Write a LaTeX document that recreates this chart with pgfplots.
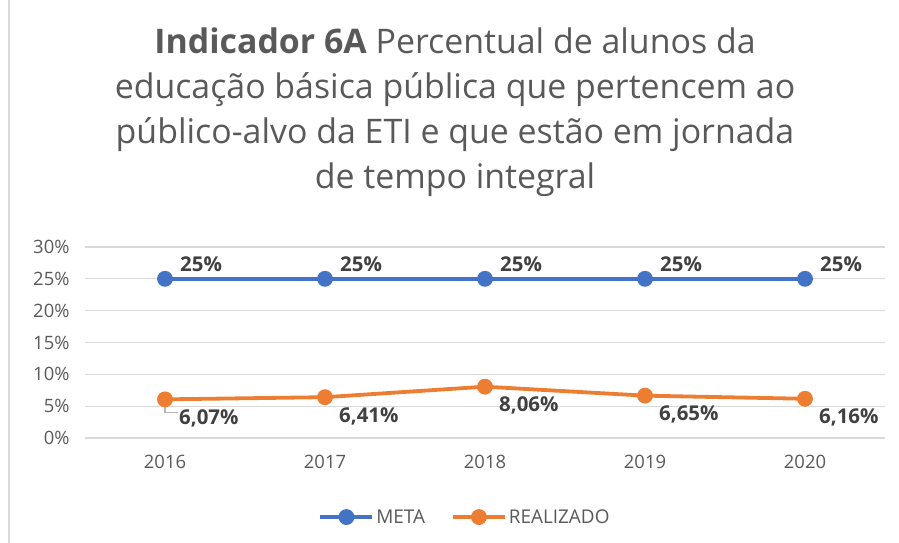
\documentclass[border=0pt]{standalone}
\usepackage{pgfplots}
\pgfplotsset{compat=1.18}
\usepackage{fontspec}
\setmainfont{Open Sans}
\definecolor{metablue}{HTML}{4472C4}
\definecolor{realorange}{HTML}{ED7D31}
\definecolor{gridgray}{HTML}{D9D9D9}
\definecolor{ticktext}{HTML}{595959}
\definecolor{labeltext}{HTML}{404040}

\begin{document}
\begin{tikzpicture}[x=1bp,y=1bp]
\useasboundingbox (0,0) rectangle (899,543);
\draw[gridgray, line width=1.2bp] (9,0) -- (9,543);

\node[align=center, text=ticktext, font=\fontsize{34}{45}\selectfont, inner sep=0pt]
  at (455,431) {\textbf{Indicador 6A} Percentual de alunos da\\
  educação básica pública que pertencem ao\\
  público-alvo da ETI e que estão em jornada\\
  de tempo integral};

\begin{axis}[
    at={(85bp,105bp)}, anchor=south west,
    scale only axis,
    width=800bp, height=191bp,
    xmin=-0.5, xmax=4.5,
    ymin=0, ymax=30,
    xtick={0,1,2,3,4},
    xticklabels={2016,2017,2018,2019,2020},
    ytick={0,5,10,15,20,25,30},
    yticklabel={\pgfmathprintnumber{\tick}\%},
    /pgf/number format/assume math mode=true,
    tick label style={font=\fontsize{18.5}{21}\selectfont, text=ticktext},
    xticklabel style={yshift=-14bp},
    yticklabel style={xshift=-12bp},
    axis line style={draw=none},
    major tick length=0pt,
    ymajorgrids,
    grid style={gridgray, line width=1.2bp},
    legend style={at={(0.475,-0.414)}, anchor=center, draw=none,
      font=\fontsize{19}{22}\selectfont, text=ticktext,
      legend columns=2,
      /tikz/every even column/.append style={column sep=24bp}},
    legend image code/.code={
      \draw[mark repeat=2,mark phase=2] plot coordinates {(0bp,0bp)(26bp,0bp)(52bp,0bp)};},
    nodes near coords,
    every node near coord/.append style={font=\bfseries\fontsize{20.5}{24}\selectfont, text=labeltext},
]
\addplot[metablue, line width=3.8bp, mark=*, mark size=6bp,
    nodes near coords={\pgfmathprintnumber[fixed,precision=0]{\pgfplotspointmeta}\%},
    every node near coord/.append style={anchor=west, xshift=10bp, yshift=15bp}]
  coordinates {(0,25) (1,25) (2,25) (3,25) (4,25)};
\addlegendentry{META}
\addplot[realorange, line width=3.8bp, mark=*, mark size=6bp,
    nodes near coords={\pgfmathprintnumber[fixed,fixed zerofill,precision=2,use comma]{\pgfplotspointmeta}\%},
    every node near coord/.append style={anchor=west, xshift=9bp, yshift=-19bp}]
  coordinates {(0,6.07) (1,6.41) (2,8.06) (3,6.65) (4,6.16)};
\addlegendentry{REALIZADO}
\draw[gridgray!60!gray, line width=1.2bp] (axis cs:0,5.6) -- (axis cs:0,4.0) -- (axis cs:0.08,4.0);
\end{axis}
\end{tikzpicture}
\end{document}
